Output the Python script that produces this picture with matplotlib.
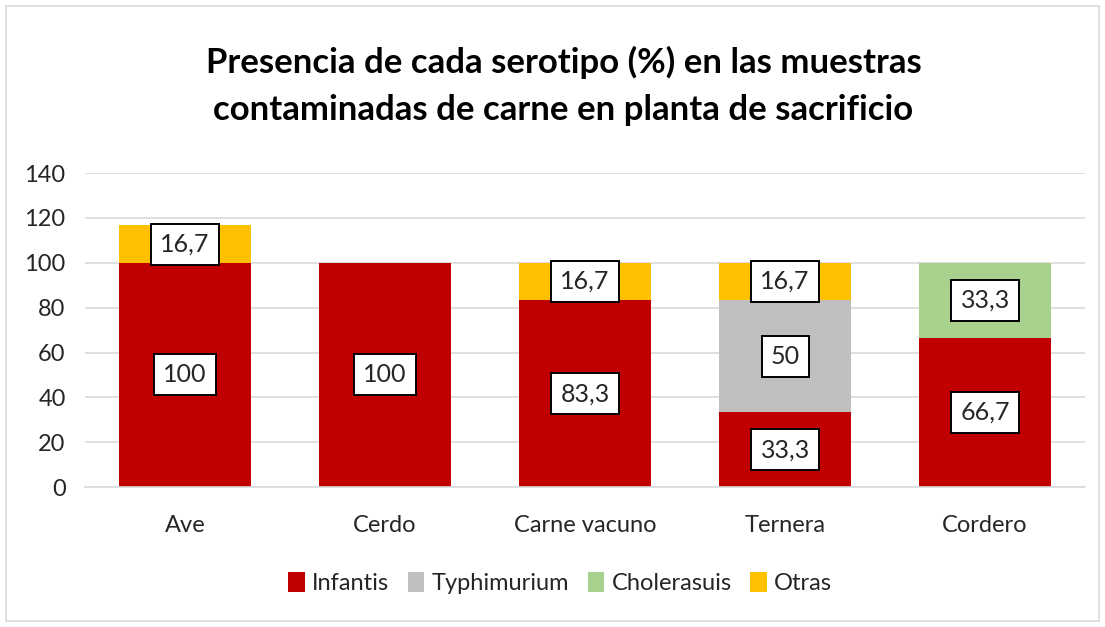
import matplotlib
matplotlib.use('Agg')
import matplotlib.pyplot as plt
from matplotlib.patches import Rectangle
import numpy as np

# ── Datos ─────────────────────────────────────────────────────────────────────
categories  = ['Ave', 'Cerdo', 'Carne vacuno', 'Ternera', 'Cordero']
infantis    = [100, 100, 83.3, 33.3, 66.7]
typhimurium = [0, 0, 0, 50, 0]
cholerasuis = [0, 0, 0, 0, 33.3]
otras       = [16.7, 0, 16.7, 16.7, 0]

series = [('Infantis', infantis, '#C00000'),
          ('Typhimurium', typhimurium, '#BFBFBF'),
          ('Cholerasuis', cholerasuis, '#A9D18E'),
          ('Otras', otras, '#FFC000')]

plt.rcParams['font.family'] = ['Lato', 'DejaVu Sans']

fig = plt.figure(figsize=(11.05, 6.27), dpi=100)
ax = fig.add_axes([0.077, 0.223, 0.905, 0.501])

# borde exterior
fig.patches.append(Rectangle((0.005, 0.01), 0.99, 0.98, transform=fig.transFigure,
                             fill=False, edgecolor='#D9D9D9', lw=1.2))

x = np.arange(len(categories))
bottom = np.zeros(len(categories))
for name, vals, color in series:
    vals = np.array(vals, dtype=float)
    ax.bar(x, vals, width=0.66, bottom=bottom, color=color, label=name, zorder=2)
    for xi, b, v in zip(x, bottom, vals):
        if v > 0:
            txt = f'{v:g}'.replace('.', ',')
            ax.text(xi, b + v / 2, txt, ha='center', va='center', fontsize=18,
                    color='#262626', zorder=3,
                    bbox=dict(boxstyle='square,pad=0.36', fc='white', ec='black', lw=1.4))
    bottom += vals

ax.set_xlim(-0.5, len(categories) - 0.5)
ax.set_ylim(0, 140)
ax.set_yticks(range(0, 141, 20))
ax.set_xticks(x)
ax.set_xticklabels(categories)
ax.tick_params(axis='both', length=0, labelsize=17, colors='#262626')
ax.tick_params(axis='y', pad=14)
ax.tick_params(axis='x', pad=20)
ax.yaxis.grid(True, color='#D9D9D9', lw=1.2, zorder=0)
ax.set_axisbelow(True)
for s in ['top', 'right', 'left']:
    ax.spines[s].set_visible(False)
ax.spines['bottom'].set_color('#D9D9D9')
ax.spines['bottom'].set_linewidth(1.2)

fig.text(0.51, 0.863, 'Presencia de cada serotipo (%) en las muestras\ncontaminadas de carne en planta de sacrificio',
         ha='center', va='center', fontsize=25, fontweight='bold', color='black',
         linespacing=1.55)

ax.legend(loc='center', bbox_to_anchor=(0.475, -0.305), ncol=4, frameon=False,
          fontsize=17, handlelength=0.7, handleheight=0.9, handletextpad=0.3,
          columnspacing=0.8, labelcolor='#262626')

plt.savefig('out.png', dpi=100)
plt.close()
